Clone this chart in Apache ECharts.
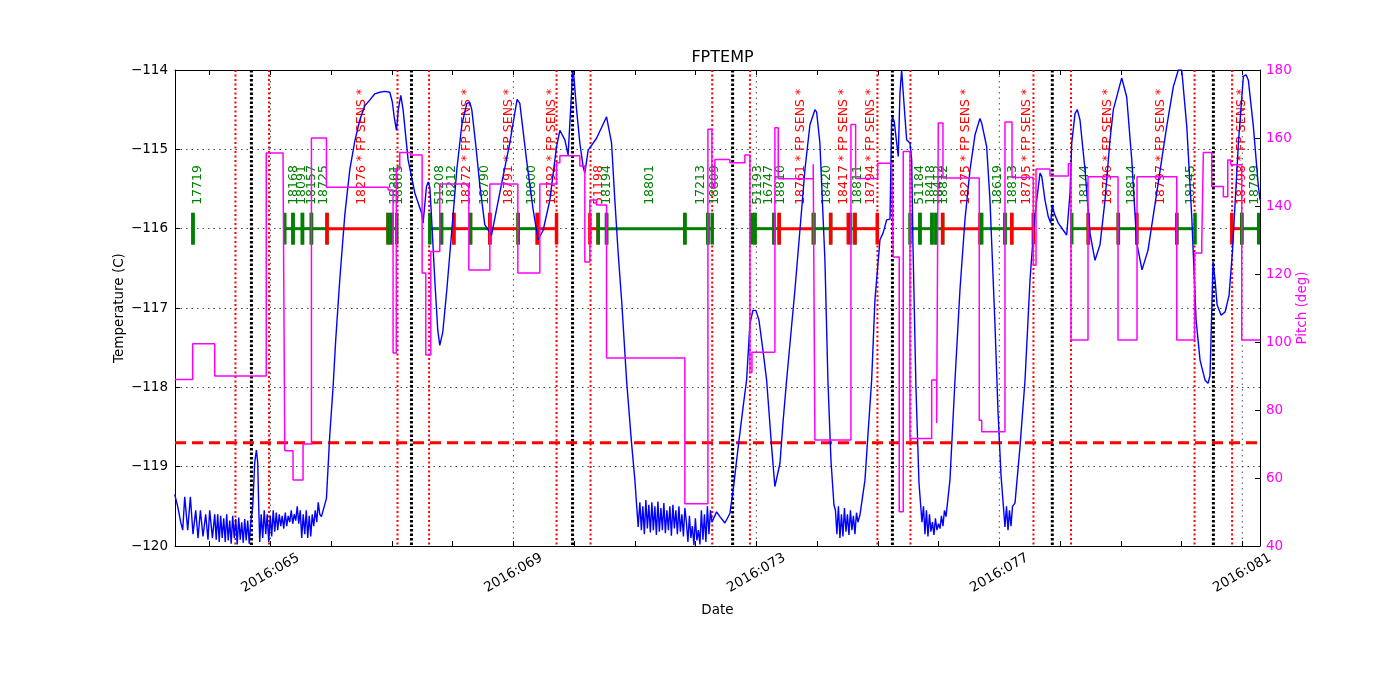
<!DOCTYPE html>
<html><head><meta charset="utf-8">
<script src="https://cdn.jsdelivr.net/npm/echarts@6/dist/echarts.min.js"></script>
<style>html,body{margin:0;padding:0;background:#fff}#c{width:1400px;height:700px}</style>
</head><body><div id="c"></div>
<script>
// ---------------- DATA ----------------
const dayTicks = [64,65,66,67,68,69,70,71,72,73,74,75,76,77,78,79,80,81];
const labelDays = [65,69,73,77,81];
const tempLimit = -118.7;
const radZoneStart = [64.424, 67.092, 69.710, 72.273, 74.993, 77.562, 80.214];
const radZoneStop  = [64.977, 67.612, 70.270, 72.894, 75.537, 78.180, 80.832];
const perigee      = [64.687, 67.322, 69.974, 72.609, 75.240, 77.872, 80.524];

const obsidIds = ['17719','18168','18091','18157','18725','18276','18201','18805','51208','18212','18272','18790','18791','18800','18792','51198','18194','18801','17213','18809','51193','16747','18810','18761','18420','18417','18811','18794','51184','18418','18412','18812','18275','18619','18813','18795','18144','18796','18814','18797','18145','18798','18799'];
const obsidStart = [63.725,65.236,65.372,65.527,65.675,65.932,66.937,66.998,67.624,67.816,68.019,68.294,68.612,69.078,69.394,70.259,70.395,70.534,71.823,72.202,72.922,72.976,73.289,73.376,73.950,74.223,74.552,74.623,75.529,75.693,75.891,75.957,76.067,76.710,77.093,77.204,78.192,78.465,78.959,79.262,79.921,80.827,80.992];
const obsidStop  = [63.725,65.372,65.527,65.675,65.932,66.937,66.998,67.080,67.816,68.019,68.294,68.612,69.078,69.394,69.710,70.395,70.534,71.823,72.202,72.273,72.976,73.289,73.376,73.936,74.223,74.513,74.623,74.990,75.693,75.891,75.957,76.067,76.681,77.093,77.204,77.559,78.465,78.959,79.262,79.921,80.222,80.992,81.270];
const obsidRed    = ['18276','18272','18791','18792','51198','18761','18417','18794','18275','18795','18796','18797','18798'];
const obsidFpSens = ['18276','18272','18791','18792','18761','18417','18794','18275','18795','18796','18797','18798'];

const pitch = [
[63.424,89],[63.720,99.5],[64.083,90],[64.931,155.6],[65.208,153.5],[65.236,68],[65.372,59.4],[65.537,70],[65.675,160],[65.922,145.5],
[66.937,144.7],[67.019,96.8],[67.072,150.9],[67.129,155.7],[67.306,155],[67.497,120.3],[67.558,96.2],[67.640,126.6],[67.788,146.5],[68.266,121.2],
[68.612,146.5],[69.073,120.3],[69.435,146.5],[69.710,152.7],[69.765,154.8],[70.094,151.8],[70.176,123.5],[70.259,141.8],[70.369,140.3],[70.534,95.3],
[71.823,52.4],[72.202,162.6],[72.268,145.2],[72.317,153.7],[72.564,152.7],[72.811,155],[72.894,91],[72.927,97],[73.305,163],[73.360,148],
[73.936,152.3],[73.964,71.2],[74.557,164],[74.634,148.1],[74.997,152.6],[75.227,151.8],[75.254,125],[75.352,50.1],[75.418,156],[75.529,71.6],
[75.886,88.8],[75.968,76.2],[75.995,164.4],[76.072,148.2],[76.670,77],[76.710,73.6],[77.093,164.7],[77.209,148.4],[77.559,122.6],[77.604,150.9],
[77.834,148.8],[78.136,152.4],[78.180,100.6],[78.460,148.6],[78.954,100.6],[79.267,148.6],[79.921,100.6],[80.214,126.2],[80.333,129.5],[80.359,155.7],
[80.497,145.7],[80.688,142.7],[80.761,153.5],[80.810,152.1],[80.991,100.6],[81.293,100.6]
];

const fptemp = [
[63.424,-119.35],[63.473,-119.5],[63.523,-119.7],[63.556,-119.8],[63.589,-119.38],[63.638,-119.8],[63.682,-119.38],[63.725,-119.85],[63.770,-119.55],[63.808,-119.9],
[63.847,-119.55],[63.890,-119.88],[63.934,-119.6],[63.972,-119.92],[64.000,-119.55],[64.045,-119.9],[64.083,-119.6],
[64.107,-119.92],[64.132,-119.6],[64.157,-119.95],[64.181,-119.62],[64.206,-119.9],[64.231,-119.65],[64.256,-119.95],[64.280,-119.6],[64.305,-119.93],[64.330,-119.68],
[64.354,-119.97],[64.379,-119.62],[64.404,-119.9],[64.429,-119.66],[64.453,-119.98],[64.478,-119.64],[64.503,-119.92],[64.527,-119.7],[64.552,-119.96],[64.577,-119.66],
[64.601,-119.93],[64.626,-119.68],[64.651,-119.97],[64.676,-119.7],
[64.709,-119.5],[64.741,-118.95],[64.769,-118.79],[64.791,-118.95],[64.807,-119.5],[64.824,-119.95],
[64.848,-119.6],[64.873,-119.9],[64.898,-119.55],[64.923,-119.85],[64.947,-119.6],[64.972,-119.95],[64.997,-119.62],[65.021,-119.88],[65.046,-119.55],[65.071,-119.82],
[65.096,-119.58],[65.120,-119.8],[65.145,-119.6],[65.170,-119.75],[65.194,-119.62],[65.219,-119.78],[65.244,-119.58],[65.268,-119.75],[65.293,-119.62],[65.318,-119.7],
[65.343,-119.55],[65.367,-119.72],[65.392,-119.6],[65.417,-119.68],[65.441,-119.5],[65.466,-119.72],[65.491,-119.55],[65.515,-119.9],[65.540,-119.6],[65.565,-119.85],
[65.590,-119.55],[65.614,-119.9],[65.639,-119.62],[65.664,-119.88],[65.688,-119.6],[65.713,-119.75],[65.738,-119.55],[65.763,-119.7],[65.787,-119.45],[65.812,-119.6],[65.840,-119.63],
[65.922,-119.4],[65.977,-118.6],[66.031,-118.0],[66.075,-117.4],[66.141,-116.65],[66.224,-115.83],[66.306,-115.26],[66.388,-114.9],[66.471,-114.63],[66.553,-114.45],
[66.635,-114.38],[66.718,-114.3],[66.800,-114.28],[66.882,-114.27],[66.965,-114.28],[67.006,-114.4],[67.039,-114.6],[67.075,-114.76],[67.105,-114.5],[67.146,-114.32],
[67.184,-114.5],[67.266,-115.13],[67.377,-115.55],[67.487,-115.8],[67.513,-115.93],[67.569,-115.47],[67.596,-115.41],[67.624,-115.48],[67.652,-115.85],[67.706,-116.65],
[67.755,-117.28],[67.788,-117.47],[67.838,-117.3],[67.904,-116.77],[67.986,-116.02],[68.068,-115.26],[68.151,-114.69],[68.233,-114.42],[68.282,-114.41],[68.315,-114.5],
[68.381,-114.95],[68.447,-115.45],[68.529,-115.95],[68.640,-116.08],[68.776,-115.55],[68.941,-114.92],[69.061,-114.37],[69.106,-114.42],[69.216,-115.13],[69.325,-115.76],
[69.407,-116.14],[69.490,-116.02],[69.600,-115.64],[69.710,-114.97],[69.765,-114.76],[69.793,-114.74],[69.847,-114.88],[69.901,-115.07],[69.929,-115.09],[69.957,-114.29],
[69.974,-114.02],[69.995,-114.08],[70.040,-114.5],[70.094,-114.92],[70.148,-115.22],[70.176,-115.3],[70.231,-115.01],[70.287,-114.95],[70.369,-114.86],[70.534,-114.59],
[70.560,-114.58],[70.616,-114.92],[70.670,-115.64],[70.725,-116.31],[70.786,-116.95],[70.863,-117.91],[70.945,-118.7],[71.000,-119.17],[71.054,-119.76],
[71.082,-119.45],[71.107,-119.8],[71.131,-119.5],[71.156,-119.85],[71.181,-119.42],[71.206,-119.78],[71.230,-119.48],[71.255,-119.83],[71.280,-119.45],[71.304,-119.8],
[71.329,-119.5],[71.354,-119.86],[71.379,-119.44],[71.403,-119.82],[71.428,-119.52],[71.453,-119.8],[71.477,-119.46],[71.502,-119.84],[71.527,-119.55],[71.552,-119.8],
[71.576,-119.5],[71.601,-119.87],[71.626,-119.48],[71.650,-119.78],[71.675,-119.55],[71.700,-119.85],[71.725,-119.5],[71.749,-119.82],[71.774,-119.6],[71.799,-119.88],[71.823,-119.52],
[71.848,-119.7],[71.873,-119.95],[71.898,-119.62],[71.922,-119.9],[71.947,-119.75],[71.972,-119.99],[71.996,-119.65],[72.021,-119.93],[72.046,-119.8],[72.071,-119.98],
[72.095,-119.55],[72.120,-119.92],[72.145,-119.6],[72.169,-119.95],[72.194,-119.5],[72.219,-119.85],[72.244,-119.55],[72.268,-119.7],
[72.345,-119.57],[72.400,-119.63],[72.482,-119.71],[72.564,-119.59],[72.619,-119.29],[72.701,-118.75],[72.783,-118.24],[72.839,-117.91],[72.894,-117.2],[72.943,-117.03],
[72.992,-117.03],[73.042,-117.15],[73.108,-117.53],[73.169,-117.91],[73.251,-118.75],[73.305,-119.25],[73.333,-119.27],[73.388,-118.96],[73.442,-118.41],[73.498,-117.91],
[73.635,-116.77],[73.717,-116.02],[73.799,-115.26],[73.882,-114.69],[73.964,-114.5],[73.992,-114.53],[74.046,-114.92],[74.129,-116.4],[74.178,-117.91],[74.228,-118.92],[74.277,-119.48],
[74.302,-119.55],[74.326,-119.85],[74.351,-119.5],[74.376,-119.9],[74.401,-119.6],[74.425,-119.88],[74.450,-119.52],[74.475,-119.82],[74.499,-119.6],[74.524,-119.86],
[74.549,-119.55],[74.573,-119.8],[74.598,-119.62],[74.623,-119.85],[74.648,-119.58],[74.672,-119.7],
[74.705,-119.61],[74.788,-119.17],[74.842,-118.54],[74.898,-117.91],[74.952,-116.9],[75.035,-116.14],[75.089,-116.05],[75.145,-115.89],[75.200,-115.88],[75.227,-114.63],
[75.244,-114.6],[75.270,-114.65],[75.310,-114.92],[75.336,-115.09],[75.364,-114.29],[75.392,-114.0],[75.418,-114.29],[75.474,-114.88],[75.529,-114.92],[75.557,-115.13],
[75.578,-116.2],[75.627,-118.0],[75.677,-119.2],[75.726,-119.7],
[75.751,-119.5],[75.776,-119.85],[75.800,-119.55],[75.825,-119.88],[75.850,-119.6],[75.874,-119.82],[75.899,-119.7],[75.924,-119.86],[75.948,-119.65],[75.973,-119.8],
[75.998,-119.72],[76.023,-119.78],[76.047,-119.62],[76.072,-119.75],[76.097,-119.55],
[76.122,-119.63],[76.187,-119.17],[76.270,-117.91],[76.352,-116.77],[76.434,-115.89],[76.517,-115.26],[76.599,-114.82],[76.681,-114.61],[76.710,-114.67],[76.736,-114.65],
[76.792,-114.97],[76.846,-115.64],[76.928,-117.2],[76.978,-118.3],[77.027,-119.1],[77.093,-119.76],
[77.118,-119.5],[77.143,-119.8],[77.167,-119.55],[77.192,-119.75],[77.217,-119.5],
[77.258,-119.46],[77.340,-118.75],[77.423,-117.91],[77.505,-116.65],[77.571,-115.95],[77.615,-115.64],[77.670,-115.3],[77.698,-115.34],[77.752,-115.64],[77.806,-115.85],
[77.846,-115.93],[77.872,-115.7],[77.905,-115.81],[77.971,-115.93],[78.053,-116.02],[78.109,-116.08],[78.136,-116.1],[78.164,-115.55],[78.192,-114.92],[78.246,-114.55],
[78.284,-114.5],[78.328,-114.63],[78.411,-115.26],[78.493,-116.06],[78.575,-116.4],[78.658,-116.2],[78.740,-115.64],[78.822,-114.88],[78.877,-114.5],[79.015,-114.1],
[79.041,-114.12],[79.097,-114.34],[79.180,-115.13],[79.262,-116.18],[79.349,-116.52],[79.448,-116.27],[79.591,-115.55],[79.756,-114.71],[79.865,-114.21],[79.947,-114.0],
[80.003,-114.0],[80.086,-114.71],[80.168,-115.85],[80.239,-117.15],[80.305,-117.66],[80.387,-117.91],[80.436,-117.95],[80.469,-117.85],[80.502,-116.9],[80.519,-116.42],
[80.552,-116.65],[80.585,-116.96],[80.651,-117.09],[80.717,-117.05],[80.782,-116.84],[80.837,-116.3],[80.936,-114.92],[81.018,-114.08],[81.062,-114.06],[81.100,-114.13],
[81.182,-114.71],[81.265,-115.47],[81.293,-115.64]
];

// ---------------- LAYOUT / STYLE ----------------
const X_MIN = 63.4289, X_MAX = 81.2915;
const T_MIN = -120, T_MAX = -114;
const BAR_LEVEL = -116, TICK_HALF = 0.2, LABEL_LEVEL = -115.70;
const FONT = '"DejaVu Sans", sans-serif';
const BLUE = '#0000FF', MAGENTA = '#FF00FF', GREEN = '#008000', RED = '#FF0000';

function vlineRender(color, width, dash) {
  return function (params, api) {
    const x = api.value(0);
    const a = api.coord([x, T_MAX]);
    const b = api.coord([x, T_MIN]);
    return { type: 'line', shape: { x1: a[0], y1: a[1], x2: b[0], y2: b[1] },
             style: { stroke: color, lineWidth: width, lineDash: dash, fill: null } };
  };
}
function vlineSeries(values, color, width, dash, z) {
  return { type: 'custom', xAxisIndex: 0, yAxisIndex: 0, z: z, silent: true, clip: true,
           data: values.map(v => [v, BAR_LEVEL]), encode: { x: 0, y: 1 },
           renderItem: vlineRender(color, width, dash) };
}

const obsidData = obsidIds.map((id, i) => [obsidStart[i], BAR_LEVEL, obsidStop[i], i]);

function obsidRender(params, api) {
  const x0 = api.value(0), x1 = api.value(2), i = api.value(3);
  const id = obsidIds[i];
  const color = obsidRed.indexOf(id) >= 0 ? RED : GREEN;
  const text = id + (obsidFpSens.indexOf(id) >= 0 ? ' * FP SENS *' : '');
  const s = api.coord([x0, BAR_LEVEL]), e = api.coord([x1, BAR_LEVEL]);
  const sTop = api.coord([x0, BAR_LEVEL + TICK_HALF]), sBot = api.coord([x0, BAR_LEVEL - TICK_HALF]);
  const eTop = api.coord([x1, BAR_LEVEL + TICK_HALF]), eBot = api.coord([x1, BAR_LEVEL - TICK_HALF]);
  const m = api.coord([(x0 + x1) / 2, LABEL_LEVEL]);
  return { type: 'group', children: [
    { type: 'line', shape: { x1: s[0], y1: s[1], x2: e[0], y2: e[1] }, style: { stroke: color, lineWidth: 3 } },
    { type: 'line', shape: { x1: sTop[0], y1: sTop[1], x2: sBot[0], y2: sBot[1] }, style: { stroke: color, lineWidth: 3.5 } },
    { type: 'line', shape: { x1: eTop[0], y1: eTop[1], x2: eBot[0], y2: eBot[1] }, style: { stroke: color, lineWidth: 3.5 } },
    { type: 'text', x: m[0] - 2, y: m[1], rotation: Math.PI / 2,
      style: { text: text, fill: color, font: '12.5px ' + FONT, align: 'left', verticalAlign: 'top' } }
  ]};
}

const minus = v => String(v).replace('-', '\u2212');
const axisText = { fontFamily: FONT, fontSize: 13.5, color: '#000' };

const option = {
  animation: false,
  backgroundColor: '#fff',
  title: { text: 'FPTEMP', left: 717.5, top: 45, textAlign: 'center',
           textStyle: { fontFamily: FONT, fontSize: 16, fontWeight: 'normal', color: '#000' } },
  grid: { left: 175, right: 140, top: 70, bottom: 154, containLabel: false },
  xAxis: [
    { type: 'value', min: X_MIN, max: X_MAX, position: 'bottom',
      name: 'Date', nameLocation: 'middle', nameGap: 57,
      nameTextStyle: { fontFamily: FONT, fontSize: 13.5, color: '#000' },
      axisLine: { show: true, onZero: false, lineStyle: { color: '#000', width: 1 } },
      axisTick: { show: true, inside: true, length: 5, customValues: dayTicks, lineStyle: { color: '#000' } },
      axisLabel: Object.assign({ customValues: labelDays, rotate: 30, align: 'center', verticalAlign: 'middle', margin: 27,
        formatter: v => '2016:' + String(Math.round(v)).padStart(3, '0') }, axisText),
      splitLine: { show: false } },
    { type: 'value', min: X_MIN, max: X_MAX, position: 'top',
      axisLine: { show: true, onZero: false, lineStyle: { color: '#000', width: 1 } },
      axisTick: { show: true, inside: true, length: 5, customValues: dayTicks, lineStyle: { color: '#000' } },
      axisLabel: { show: false }, splitLine: { show: false } }
  ],
  yAxis: [
    { type: 'value', min: T_MIN, max: T_MAX, interval: 1, position: 'left',
      name: 'Temperature (C)', nameLocation: 'middle', nameGap: 49, nameRotate: 90, nameMoveOverlap: false,
      nameTextStyle: { fontFamily: FONT, fontSize: 13.5, color: '#000' },
      axisLine: { show: true, onZero: false, lineStyle: { color: '#000', width: 1 } },
      axisTick: { show: true, inside: true, length: 5, lineStyle: { color: '#000' } },
      axisLabel: Object.assign({ margin: 7, formatter: minus }, axisText),
      splitLine: { show: true, lineStyle: { color: '#000', width: 0.7, type: [1.5, 4] } } },
    { type: 'value', min: 40, max: 180, interval: 20, position: 'right',
      name: 'Pitch (deg)', nameLocation: 'middle', nameGap: 35, nameRotate: 90, nameMoveOverlap: false,
      nameTextStyle: { fontFamily: FONT, fontSize: 13.5, color: MAGENTA },
      axisLine: { show: true, onZero: false, lineStyle: { color: '#000', width: 1 } },
      axisTick: { show: true, inside: true, length: 5, lineStyle: { color: '#000' } },
      axisLabel: { margin: 6, fontFamily: FONT, fontSize: 13.5, color: MAGENTA },
      splitLine: { show: false } }
  ],
  series: [
    vlineSeries(labelDays, '#000', 0.7, [1.5, 4], 1),
    vlineSeries(radZoneStart.concat(radZoneStop), RED, 2, [2, 2.5], 2),
    vlineSeries(perigee, '#000', 3, [2.5, 2], 2),
    { type: 'line', xAxisIndex: 0, yAxisIndex: 0, z: 3, silent: true, showSymbol: false,
      data: [[X_MIN, tempLimit], [X_MAX, tempLimit]],
      lineStyle: { color: RED, width: 3, type: [11, 6] } },
    { type: 'custom', xAxisIndex: 0, yAxisIndex: 0, z: 4, silent: true, clip: true,
      data: obsidData, encode: { x: [0, 2], y: 1 }, renderItem: obsidRender },
    { type: 'line', name: 'FPTEMP', xAxisIndex: 0, yAxisIndex: 0, z: 6, silent: true, showSymbol: false,
      data: fptemp, lineStyle: { color: BLUE, width: 1.4 }, itemStyle: { color: BLUE } },
    { type: 'line', name: 'Pitch', xAxisIndex: 0, yAxisIndex: 1, z: 7, silent: true, showSymbol: false, step: 'end',
      data: pitch, lineStyle: { color: MAGENTA, width: 1.5 }, itemStyle: { color: MAGENTA } }
  ]
};
const chart = echarts.init(document.getElementById('c'), null, { renderer: 'canvas' });
chart.setOption(option);
</script></body></html>
